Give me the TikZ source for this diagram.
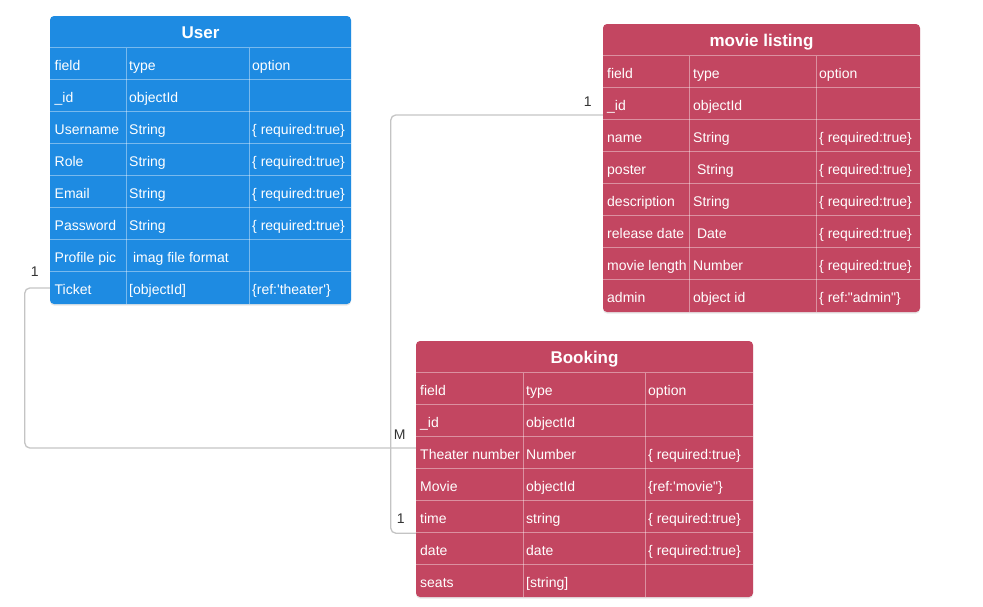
\documentclass[tikz,border=0pt]{standalone}
\usepackage{fontspec}
\setmainfont{Liberation Sans}
\usepackage{xcolor}
\usetikzlibrary{shadows}
\definecolor{userBlue}{RGB}{30,139,226}
\definecolor{movieRose}{RGB}{195,70,97}
\definecolor{linkGray}{RGB}{196,196,196}

\tikzset{
  tablebox/.style={rounded corners=4pt, inner sep=0pt,
    drop shadow={shadow xshift=0pt, shadow yshift=-1.5pt, opacity=0.2}},
  rowbox/.style={minimum height=32pt, inner sep=0pt},
  grid/.style={draw=white, draw opacity=0.4, line width=1pt},
  cell/.style={anchor=base west, inner sep=0pt, text=white, font=\fontsize{14}{16}\selectfont},
  title/.style={anchor=base, inner sep=0pt, text=white, font=\fontsize{17}{20}\selectfont\bfseries},
  card/.style={inner sep=0pt, text=black!80, font=\fontsize{14}{16}\selectfont},
  link/.style={draw=linkGray, line width=1.3pt, rounded corners=5pt}
}

\begin{document}
\begin{tikzpicture}[x=1pt,y=-1pt]
\useasboundingbox (0,0) rectangle (983,606);

% User
\node[tablebox, fill=userBlue, minimum width=301pt, minimum height=288pt] (user) at (200.5,160) {};
\node[title] (user-title) at (200.5,38) {User};
\foreach \rn/\fa/\ty/\op [count=\i] in {head/field/type/option, id/\_id/objectId/{},
    username/Username/String/\{ required:true\}, role/Role/String/\{ required:true\},
    email/Email/String/\{ required:true\}, password/Password/String/\{ required:true\},
    pic/Profile pic/\ imag file format/{}, ticket/Ticket/[objectId]/\{ref:\textquotesingle theater\textquotesingle\}} {
  \node[rowbox, minimum width=301pt] (user-\rn) at (200.5,{32+32*\i}) {};
  \draw[grid] (user-\rn.north west) -- (user-\rn.north east);
  \node[cell] (user-\rn-f) at (54.5,{38+32*\i}) {\fa};
  \node[cell] (user-\rn-t) at (129,{38+32*\i}) {\ty};
  \node[cell] (user-\rn-o) at (252,{38+32*\i}) {\op};
}
\draw[grid] (126,48) -- (126,304) (249.5,48) -- (249.5,304);

% movie listing
\node[tablebox, fill=movieRose, minimum width=317pt, minimum height=288pt] (movie) at (761.5,168) {};
\node[title] (movie-title) at (761.5,46) {movie listing};
\foreach \rn/\fa/\ty/\op [count=\i] in {head/field/type/option, id/\_id/objectId/{},
    name/name/String/\{ required:true\}, poster/poster/\ String/\{ required:true\},
    desc/description/String/\{ required:true\}, release/release date/\ Date/\{ required:true\},
    length/movie length/Number/\{ required:true\}, admin/admin/object id/\{ ref:\textquotedbl admin\textquotedbl\}} {
  \node[rowbox, minimum width=317pt] (movie-\rn) at (761.5,{40+32*\i}) {};
  \draw[grid] (movie-\rn.north west) -- (movie-\rn.north east);
  \node[cell] (movie-\rn-f) at (607,{46+32*\i}) {\fa};
  \node[cell] (movie-\rn-t) at (693,{46+32*\i}) {\ty};
  \node[cell] (movie-\rn-o) at (819,{46+32*\i}) {\op};
}
\draw[grid] (689.5,56) -- (689.5,312) (816,56) -- (816,312);

% Booking
\node[tablebox, fill=movieRose, minimum width=337pt, minimum height=256pt] (booking) at (584.5,469) {};
\node[title] (booking-title) at (584.5,363) {Booking};
\foreach \rn/\fa/\ty/\op [count=\i] in {head/field/type/option, id/\_id/objectId/{},
    theater/Theater number/Number/\{ required:true\}, movie/Movie/objectId/\{ref:\textquotesingle movie\textquotedbl\},
    time/time/string/\{ required:true\}, date/date/date/\{ required:true\}, seats/seats/[string]/{}} {
  \node[rowbox, minimum width=337pt] (booking-\rn) at (584.5,{357+32*\i}) {};
  \draw[grid] (booking-\rn.north west) -- (booking-\rn.north east);
  \node[cell] (booking-\rn-f) at (420,{363+32*\i}) {\fa};
  \node[cell] (booking-\rn-t) at (526,{363+32*\i}) {\ty};
  \node[cell] (booking-\rn-o) at (648,{363+32*\i}) {\op};
}
\draw[grid] (523,373) -- (523,597) (645,373) -- (645,597);

% links
\draw[link] (user-ticket.west) -- ++(-25,0) |- ([yshift=5pt]booking-theater.west);
\draw[link] ([yshift=-11pt]movie-id.west) -- ++(-212,0) |- (booking-time.south west);
\node[card] (card-user) at ([shift={(-15pt,16pt)}]user-ticket.west) {1};
\node[card] (card-booking-m) at ([shift={(-16pt,18pt)}]booking-theater.west) {M};
\node[card] (card-movie) at ([shift={(-15pt,2pt)}]movie-id.west) {1};
\node[card] (card-booking-1) at ([shift={(-15pt,-2pt)}]booking-time.west) {1};
\end{tikzpicture}
\end{document}
